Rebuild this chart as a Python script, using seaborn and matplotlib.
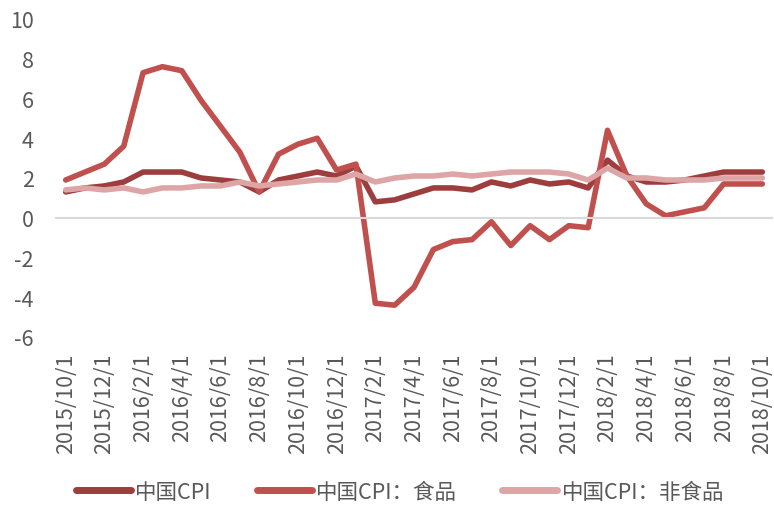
import pandas as pd
import numpy as np
import matplotlib
matplotlib.use("Agg")
import matplotlib.pyplot as plt
import seaborn as sns

# monthly data, 2015/10 .. 2018/10
months = pd.date_range("2015-10-01", "2018-10-01", freq="MS")
month_labels = [f"{d.year}/{d.month}/1" for d in months]

cpi = [1.3, 1.5, 1.6, 1.8, 2.3, 2.3, 2.3, 2.0, 1.9, 1.8, 1.3, 1.9, 2.1,
       2.3, 2.1, 2.6, 0.8, 0.9, 1.2, 1.5, 1.5, 1.4, 1.8, 1.6, 1.9, 1.7,
       1.8, 1.5, 2.9, 2.1, 1.8, 1.8, 1.9, 2.1, 2.3, 2.3, 2.3]
cpi_food = [1.9, 2.3, 2.7, 3.6, 7.3, 7.6, 7.4, 5.9, 4.6, 3.3, 1.3, 3.2, 3.7,
            4.0, 2.4, 2.7, -4.3, -4.4, -3.5, -1.6, -1.2, -1.1, -0.2, -1.4, -0.4, -1.1,
            -0.4, -0.5, 4.4, 2.1, 0.7, 0.1, 0.3, 0.5, 1.7, 1.7, 1.7]
cpi_nonfood = [1.4, 1.5, 1.4, 1.5, 1.3, 1.5, 1.5, 1.6, 1.6, 1.8, 1.6, 1.7, 1.8,
               1.9, 1.9, 2.2, 1.8, 2.0, 2.1, 2.1, 2.2, 2.1, 2.2, 2.3, 2.3, 2.3,
               2.2, 1.9, 2.5, 2.0, 2.0, 1.9, 1.9, 1.9, 2.0, 2.0, 2.0]

series_names = ["中国CPI", "中国CPI：食品", "中国CPI：非食品"]
colors = ["#9E3D3D", "#C0504D", "#DDA5A5"]

df = pd.DataFrame({"idx": np.arange(len(months)),
                   series_names[0]: cpi,
                   series_names[1]: cpi_food,
                   series_names[2]: cpi_nonfood})
long = df.melt(id_vars="idx", var_name="series", value_name="value")

sns.set_style("white")
plt.rcParams["font.family"] = ["Noto Sans CJK SC", "DejaVu Sans"]
plt.rcParams["axes.unicode_minus"] = False
text_color = "#595959"
fs = 15.5

fig = plt.figure(figsize=(7.74, 5.06), dpi=100)
ax = fig.add_axes([56 / 774, 168 / 506, 716 / 774, 318 / 506])

sns.lineplot(data=long, x="idx", y="value", hue="series", hue_order=series_names,
             palette=colors, linewidth=4, ax=ax, legend=True)
for line in ax.lines:
    line.set_solid_capstyle("round")
    line.set_solid_joinstyle("round")

ax.set_xlim(-0.5, len(months) - 0.5)
ax.set_ylim(-6, 10)
ax.set_yticks(np.arange(-6, 11, 2))
ax.tick_params(axis="y", length=0, pad=16, labelsize=fs, labelcolor=text_color)
ax.set_xlabel("")
ax.set_ylabel("")

for s in ["left", "right", "top"]:
    ax.spines[s].set_visible(False)
ax.spines["bottom"].set_position(("data", 0))
ax.spines["bottom"].set_color("#D9D9D9")
ax.spines["bottom"].set_linewidth(1.5)
ax.set_xticks(np.arange(-0.5, len(months), 2))
ax.tick_params(axis="x", length=5, width=1.5, color="#D9D9D9", labelbottom=False)

sec = ax.secondary_xaxis(0)
sec.set_xticks(np.arange(0, len(months), 2), labels=month_labels[::2])
sec.tick_params(length=0, rotation=90, pad=11, labelsize=fs, labelcolor=text_color)
sec.spines["bottom"].set_visible(False)

handles, labels = ax.get_legend_handles_labels()
ax.get_legend().remove()
leg = fig.legend(handles, labels, loc="center", bbox_to_anchor=(0.517, 0.026),
                 ncol=3, frameon=False, fontsize=fs, handlelength=2.55,
                 handletextpad=0.2, columnspacing=2.1, labelcolor=text_color)
for h in leg.legend_handles:
    h.set_linewidth(5)
    h.set_solid_capstyle("round")

fig.savefig("out.png", dpi=100)
